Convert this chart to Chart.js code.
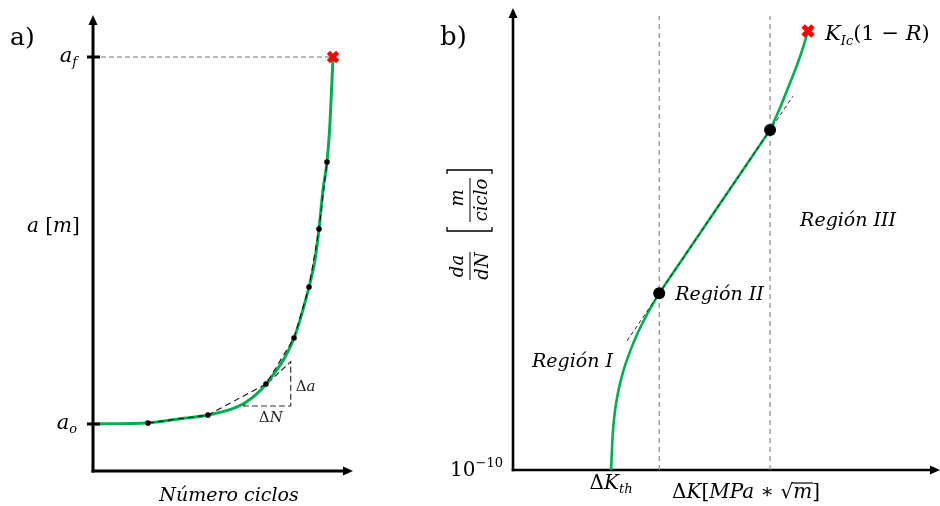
<!DOCTYPE html>
<html><head><meta charset="utf-8">
<script src="https://cdn.jsdelivr.net/npm/chart.js@4.4.1/dist/chart.umd.min.js"></script>
<style>
html,body{margin:0;padding:0;background:#fff;}
body{width:940px;height:506px;position:relative;overflow:hidden}
canvas{position:absolute;top:0}
#ca{left:0}
#cb{left:420px}
</style></head><body>
<canvas id="ca" width="420" height="506"></canvas>
<canvas id="cb" width="520" height="506"></canvas>
<script>
// ---------- Panel a) crack length vs number of cycles (arbitrary units) ----------
const cyclesN = [0, 21.15, 33.46, 44.23, 57.69, 66.54, 77.31, 83.08, 85.38, 86.92, 88.46, 90.0, 91.15, 92.31];
const crackA  = [10.31, 10.53, 11.46, 12.28, 14.69, 19.08, 29.17, 40.35, 46.27, 53.07, 61.62, 67.76, 76.32, 90.79];
const sampleN = [21.15, 44.23, 66.54, 77.31, 83.08, 86.92, 90.0];
const sampleA = [10.53, 12.28, 19.08, 29.17, 40.35, 53.07, 67.76];
const stepN = [57.69, 76.04, 76.04, 57.69];
const stepA = [14.25, 14.25, 23.97, 14.25];
const aTickValues = [10.31, 90.79];
const aTickLabels = [['a', 'o'], ['a', 'f']];
const failN = 92.31, failA = 90.79;
const nAxisRange = [0, 100];
const aAxisRange = [0, 100];

// ---------- Panel b) crack growth rate vs stress intensity range (log-log) ----------
const regionIK      = [2.88, 2.93, 3.00, 3.11, 3.28, 3.53, 3.86, 4.23, 4.54, 4.84];
const regionIRate   = [1e-10, 4.04e-10, 1.02e-9, 2.27e-9, 5.04e-9, 1.12e-8, 2.48e-8, 4.83e-8, 7.71e-8, 1.15e-7];
const regionIIK     = [4.84, 16.0];
const regionIIRate  = [1.15e-7, 7.71e-5];
const regionIIIK    = [16.0, 17.8, 19.4, 21.4, 22.8, 24.1];
const regionIIIRate = [7.71e-5, 1.85e-4, 4.12e-4, 1.03e-3, 2.03e-3, 4.0e-3];
const transitionK    = [4.84, 16.0];
const transitionRate = [1.15e-7, 7.71e-5];
const parisK    = [3.42, 20.49];
const parisRate = [1.72e-8, 2.98e-4];
const thresholdK = 2.88;
const fractureK = 24.1, fractureRate = 4.0e-3;
const boundaryTopRate = 7.26e-3;
const kAxisRange = [1, 100];
const rateAxisRange = [1e-10, 1e-2];
const rateTickValues = [1e-10];
const rateTickLabels = [['10', '−10']];

// ---------- helpers ----------
const GREEN = '#00B050';
const SERIF = '"DejaVu Serif", "Liberation Serif", serif';
const F = (style, size) => style + ' ' + size + 'px ' + SERIF;
const pts = (xs, ys) => xs.map((x, i) => ({ x: x, y: ys[i] }));

function rich(ctx, parts, x, y, align) {
  let w = 0;
  for (const p of parts) { ctx.font = p[1]; w += ctx.measureText(p[0]).width; }
  let cx = align === 'center' ? x - w / 2 : (align === 'right' ? x - w : x);
  ctx.textAlign = 'left';
  ctx.textBaseline = 'alphabetic';
  const pos = [];
  for (const p of parts) {
    ctx.font = p[1];
    const pw = ctx.measureText(p[0]).width;
    ctx.fillText(p[0], cx, y + (p[2] || 0));
    pos.push([cx, pw]);
    cx += pw;
  }
  return pos;
}
function seg(ctx, x1, y1, x2, y2) {
  ctx.beginPath(); ctx.moveTo(x1, y1); ctx.lineTo(x2, y2); ctx.stroke();
}
function arrowAxes(ctx, ca, lw) {
  ctx.save();
  ctx.strokeStyle = '#000'; ctx.fillStyle = '#000'; ctx.lineWidth = lw;
  seg(ctx, ca.left, ca.bottom + lw / 2, ca.left, ca.top + 8);
  seg(ctx, ca.left - lw / 2, ca.bottom, ca.right - 8, ca.bottom);
  ctx.beginPath();
  ctx.moveTo(ca.left, ca.top); ctx.lineTo(ca.left - 4.5, ca.top + 10); ctx.lineTo(ca.left + 4.5, ca.top + 10);
  ctx.closePath(); ctx.fill();
  ctx.beginPath();
  ctx.moveTo(ca.right, ca.bottom); ctx.lineTo(ca.right - 10, ca.bottom - 4.5); ctx.lineTo(ca.right - 10, ca.bottom + 4.5);
  ctx.closePath(); ctx.fill();
  ctx.restore();
}

const commonOpts = {
  responsive: false,
  animation: false,
  events: [],
  plugins: { legend: { display: false }, tooltip: { enabled: false } },
};

// ---------- chart a ----------
const plugA = {
  id: 'panelA',
  beforeDatasetsDraw(chart) { arrowAxes(chart.ctx, chart.chartArea, 3); },
  afterDraw(chart) {
    const ctx = chart.ctx, ca = chart.chartArea, xs = chart.scales.x, ys = chart.scales.y;
    ctx.save();
    ctx.fillStyle = '#000'; ctx.strokeStyle = '#000';
    rich(ctx, [['a)', F('normal', 25)]], 10, 45, 'left');
    aTickValues.forEach((v, i) => {
      const py = ys.getPixelForValue(v);
      ctx.lineWidth = 3;
      seg(ctx, ca.left - 6, py, ca.left + 7, py);
      rich(ctx, [[aTickLabels[i][0], F('italic', 21)], [aTickLabels[i][1], F('italic', 13), 4]], ca.left - 16, py + 5, 'right');
    });
    rich(ctx, [['a', F('italic', 20)], [' [', F('normal', 20)], ['m', F('italic', 20)], [']', F('normal', 20)]], 27, 232, 'left');
    rich(ctx, [['Número ciclos', F('italic', 19)]], ca.left + 136, 501, 'center');
    const x0 = xs.getPixelForValue(stepN[0]), x1 = xs.getPixelForValue(stepN[1]);
    const y0 = ys.getPixelForValue(stepA[0]), y2 = ys.getPixelForValue(stepA[2]);
    ctx.fillStyle = '#222';
    rich(ctx, [['Δ', F('normal', 15)], ['a', F('italic', 15)]], x1 + 5, (y0 + y2) / 2 + 7, 'left');
    rich(ctx, [['Δ', F('normal', 15)], ['N', F('italic', 15)]], (x0 + x1) / 2 + 4, y0 + 16, 'center');
    ctx.restore();
  }
};

new Chart(document.getElementById('ca'), {
  type: 'scatter',
  data: {
    datasets: [
      { data: [{ x: failN, y: failA }], pointStyle: 'crossRot', pointRadius: 6.5, pointBorderWidth: 4.5,
        pointBorderColor: '#ff0000', showLine: false, order: 0, clip: false },
      { data: pts(sampleN, sampleA), pointStyle: 'circle', pointRadius: 2.8, pointBackgroundColor: '#000',
        pointBorderWidth: 0, showLine: false, order: 1, clip: false },
      { data: pts(sampleN, sampleA), showLine: true, pointRadius: 0, borderColor: '#111', borderWidth: 1.1,
        borderDash: [6, 4], tension: 0, order: 2, clip: false },
      { data: pts(stepN, stepA), showLine: true, pointRadius: 0, borderColor: '#333', borderWidth: 1.2,
        borderDash: [6, 3], tension: 0, order: 5, clip: false },
      { data: pts(cyclesN, crackA), showLine: true, pointRadius: 0, borderColor: GREEN, borderWidth: 3,
        cubicInterpolationMode: 'monotone', order: 4, clip: false },
      { data: [{ x: nAxisRange[0], y: failA }, { x: failN, y: failA }], showLine: true, pointRadius: 0,
        borderColor: '#777', borderWidth: 1.2, borderDash: [5, 3], order: 6, clip: false },
    ]
  },
  options: Object.assign({}, commonOpts, {
    layout: { autoPadding: false, padding: { left: 93, right: 67, top: 15, bottom: 35 } },
    scales: {
      x: { type: 'linear', display: false, min: nAxisRange[0], max: nAxisRange[1] },
      y: { type: 'linear', display: false, min: aAxisRange[0], max: aAxisRange[1] }
    }
  }),
  plugins: [plugA]
});

// ---------- chart b ----------
const plugB = {
  id: 'panelB',
  beforeDatasetsDraw(chart) { arrowAxes(chart.ctx, chart.chartArea, 2.6); },
  afterDraw(chart) {
    const ctx = chart.ctx, ca = chart.chartArea, xs = chart.scales.x, ys = chart.scales.y;
    ctx.save();
    ctx.fillStyle = '#000'; ctx.strokeStyle = '#000';
    rich(ctx, [['b)', F('normal', 26)]], 20, 45, 'left');
    rateTickValues.forEach((v, i) => {
      const py = ys.getPixelForValue(v);
      rich(ctx, [[rateTickLabels[i][0], F('normal', 20)], [rateTickLabels[i][1], F('normal', 13), -9]], ca.left - 10, py + 6, 'right');
    });
    const fx = xs.getPixelForValue(fractureK), fy = ys.getPixelForValue(fractureRate);
    rich(ctx, [['K', F('italic', 21)], ['Ic', F('italic', 13), 5], ['(1 − ', F('normal', 21)], ['R', F('italic', 21)], [')', F('normal', 21)]], fx + 17, fy + 9, 'left');
    const t1x = xs.getPixelForValue(transitionK[0]), t1y = ys.getPixelForValue(transitionRate[0]);
    const t2x = xs.getPixelForValue(transitionK[1]);
    rich(ctx, [['Región III', F('italic', 19)]], t2x + 30, 226, 'left');
    rich(ctx, [['Región II', F('italic', 19)]], t1x + 16, t1y + 7, 'left');
    rich(ctx, [['Región I', F('italic', 19)]], 112, 367, 'left');
    const thx = xs.getPixelForValue(thresholdK);
    rich(ctx, [['Δ', F('normal', 20)], ['K', F('italic', 20)], ['th', F('italic', 13), 4]], thx, ca.bottom + 19, 'center');
    const pos = rich(ctx, [['Δ', F('normal', 20)], ['K', F('italic', 20)], ['[', F('normal', 20)], ['MPa', F('italic', 20)],
      [' ∗ ', F('normal', 20)], ['√', F('normal', 20)], ['m', F('italic', 20)], [']', F('normal', 20)]], 252, 498, 'left');
    ctx.lineWidth = 1.2;
    seg(ctx, pos[5][0] + pos[5][1] - 1, 483, pos[6][0] + pos[6][1] + 1, 483);

    // rotated y label: da/dN [m/ciclo]
    ctx.translate(48, 225);
    ctx.rotate(-Math.PI / 2);
    ctx.lineWidth = 1;
    rich(ctx, [['da', F('italic', 18)]], -41, -5, 'center');
    rich(ctx, [['dN', F('italic', 18)]], -41, 20, 'center');
    seg(ctx, -55, 2, -27, 2);
    rich(ctx, [['m', F('italic', 18)]], 27, -5, 'center');
    rich(ctx, [['ciclo', F('italic', 18)]], 25, 19, 'center');
    seg(ctx, 3, 2, 47, 2);
    ctx.lineWidth = 1.3;
    ctx.beginPath(); ctx.moveTo(-2, -21); ctx.lineTo(-6, -21); ctx.lineTo(-6, 24); ctx.lineTo(-2, 24); ctx.stroke();
    ctx.beginPath(); ctx.moveTo(51, -21); ctx.lineTo(55, -21); ctx.lineTo(55, 24); ctx.lineTo(51, 24); ctx.stroke();
    ctx.restore();
  }
};

const boundaryDatasets = transitionK.map((k, i) => ({
  data: [{ x: k, y: rateAxisRange[0] }, { x: k, y: boundaryTopRate }], showLine: true, pointRadius: 0,
  borderColor: '#888', borderWidth: 1.2, borderDash: [5, 4], order: 7 + i, clip: false
}));
const greenCurve = (xs, ys, ord, straight) => ({
  data: pts(xs, ys), showLine: true, pointRadius: 0, borderColor: GREEN, borderWidth: 2.6,
  cubicInterpolationMode: straight ? 'default' : 'monotone', tension: 0, order: ord, clip: false
});

new Chart(document.getElementById('cb'), {
  type: 'scatter',
  data: {
    datasets: [
      { data: [{ x: fractureK, y: fractureRate }], pointStyle: 'crossRot', pointRadius: 7, pointBorderWidth: 5,
        pointBorderColor: '#ff0000', showLine: false, order: 0, clip: false },
      { data: pts(transitionK, transitionRate), pointStyle: 'circle', pointRadius: 6, pointBackgroundColor: '#000',
        pointBorderWidth: 0, showLine: false, order: 1, clip: false },
      { data: pts(parisK, parisRate), showLine: true, pointRadius: 0, borderColor: '#222', borderWidth: 1,
        borderDash: [4, 3], tension: 0, order: 2, clip: false },
      greenCurve(regionIK, regionIRate, 3, false),
      greenCurve(regionIIK, regionIIRate, 4, true),
      greenCurve(regionIIIK, regionIIIRate, 5, false),
    ].concat(boundaryDatasets)
  },
  options: Object.assign({}, commonOpts, {
    layout: { autoPadding: false, padding: { left: 93, right: 0, top: 8, bottom: 36 } },
    scales: {
      x: { type: 'logarithmic', display: false, min: kAxisRange[0], max: kAxisRange[1] },
      y: { type: 'logarithmic', display: false, min: rateAxisRange[0], max: rateAxisRange[1] }
    }
  }),
  plugins: [plugB]
});
</script>
</body></html>
